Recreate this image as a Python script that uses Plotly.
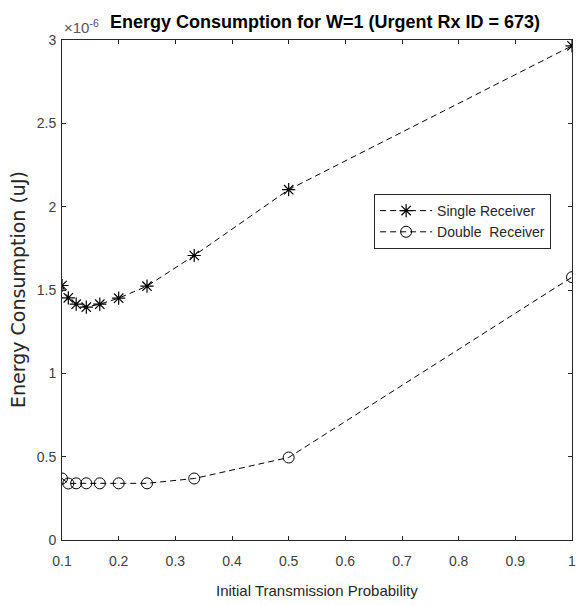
import plotly.graph_objects as go

# Data (energy in units of 1e-6 uJ)
x_prob = [0.1, 1/9, 0.125, 1/7, 1/6, 0.2, 0.25, 1/3, 0.5, 1.0]
single_rx = [1.527, 1.453, 1.415, 1.397, 1.415, 1.451, 1.523, 1.707, 2.102, 2.965]
double_rx = [0.369, 0.339, 0.340, 0.340, 0.340, 0.340, 0.340, 0.369, 0.495, 1.577]

x_ticks = [0.1, 0.2, 0.3, 0.4, 0.5, 0.6, 0.7, 0.8, 0.9, 1.0]
x_tick_labels = ["0.1", "0.2", "0.3", "0.4", "0.5", "0.6", "0.7", "0.8", "0.9", "1"]
y_ticks = [0, 0.5, 1, 1.5, 2, 2.5, 3]
y_tick_labels = ["0", "0.5", "1", "1.5", "2", "2.5", "3"]

FONT = "Liberation Sans, Arial, sans-serif"
AX = "#262626"

fig = go.Figure()
fig.add_trace(go.Scatter(
    x=x_prob, y=single_rx, name="Single Receiver", mode="lines+markers",
    line=dict(color="black", width=1, dash="6px,4px"),
    marker=dict(symbol="asterisk-open", size=11, color="black", line=dict(color="black", width=1.2)),
))
fig.add_trace(go.Scatter(
    x=x_prob, y=double_rx, name="Double  Receiver", mode="lines+markers",
    line=dict(color="black", width=1, dash="6px,4px"),
    marker=dict(symbol="circle-open", size=11, color="black", line=dict(color="black", width=1)),
))

axis_common = dict(
    showgrid=False, zeroline=False, showline=True, linecolor=AX, linewidth=1,
    mirror="allticks", ticks="inside", ticklen=4, tickcolor=AX, tickwidth=1,
    tickfont=dict(family=FONT, size=14, color="#404040"),
)

fig.update_layout(
    width=583, height=605,
    margin=dict(l=62, r=7, t=40, b=65),
    paper_bgcolor="white", plot_bgcolor="white",
    showlegend=True,
    legend=dict(
        x=0.612, y=0.692, xanchor="left", yanchor="top",
        bgcolor="white", bordercolor=AX, borderwidth=1,
        font=dict(family=FONT, size=14, color=AX),
        tracegroupgap=0, itemwidth=52,
    ),
    xaxis=dict(range=[0.1, 1.0], tickvals=x_ticks, ticktext=x_tick_labels,
               ticklabelstandoff=8, **axis_common),
    yaxis=dict(range=[0, 3], tickvals=y_ticks, ticktext=y_tick_labels,
               ticklabelstandoff=2, **axis_common),
    annotations=[
        dict(text="<b>Energy Consumption for W=1 (Urgent Rx ID = 673)</b>", x=0.5, y=1,
             xref="paper", yref="paper", xanchor="center", yanchor="bottom", yshift=6, xshift=8,
             showarrow=False, font=dict(family=FONT, size=18, color="black")),
        dict(text="×10<sup>-6</sup>", x=0, y=1, xref="paper", yref="paper",
             xanchor="left", yanchor="bottom", yshift=2, showarrow=False,
             font=dict(family=FONT, size=15, color="#555555")),
        dict(text="Initial Transmission Probability", x=0.5, y=0, xref="paper", yref="paper",
             xanchor="center", yanchor="top", yshift=-40, showarrow=False,
             font=dict(family=FONT, size=15, color=AX)),
        dict(text="Energy Consumption (uJ)", x=0, y=0.5, xref="paper", yref="paper",
             xanchor="right", yanchor="middle", xshift=-31, textangle=-90, showarrow=False,
             font=dict(family="DejaVu Sans, sans-serif", size=19, color=AX)),
    ],
)

fig.write_html("out.html")
